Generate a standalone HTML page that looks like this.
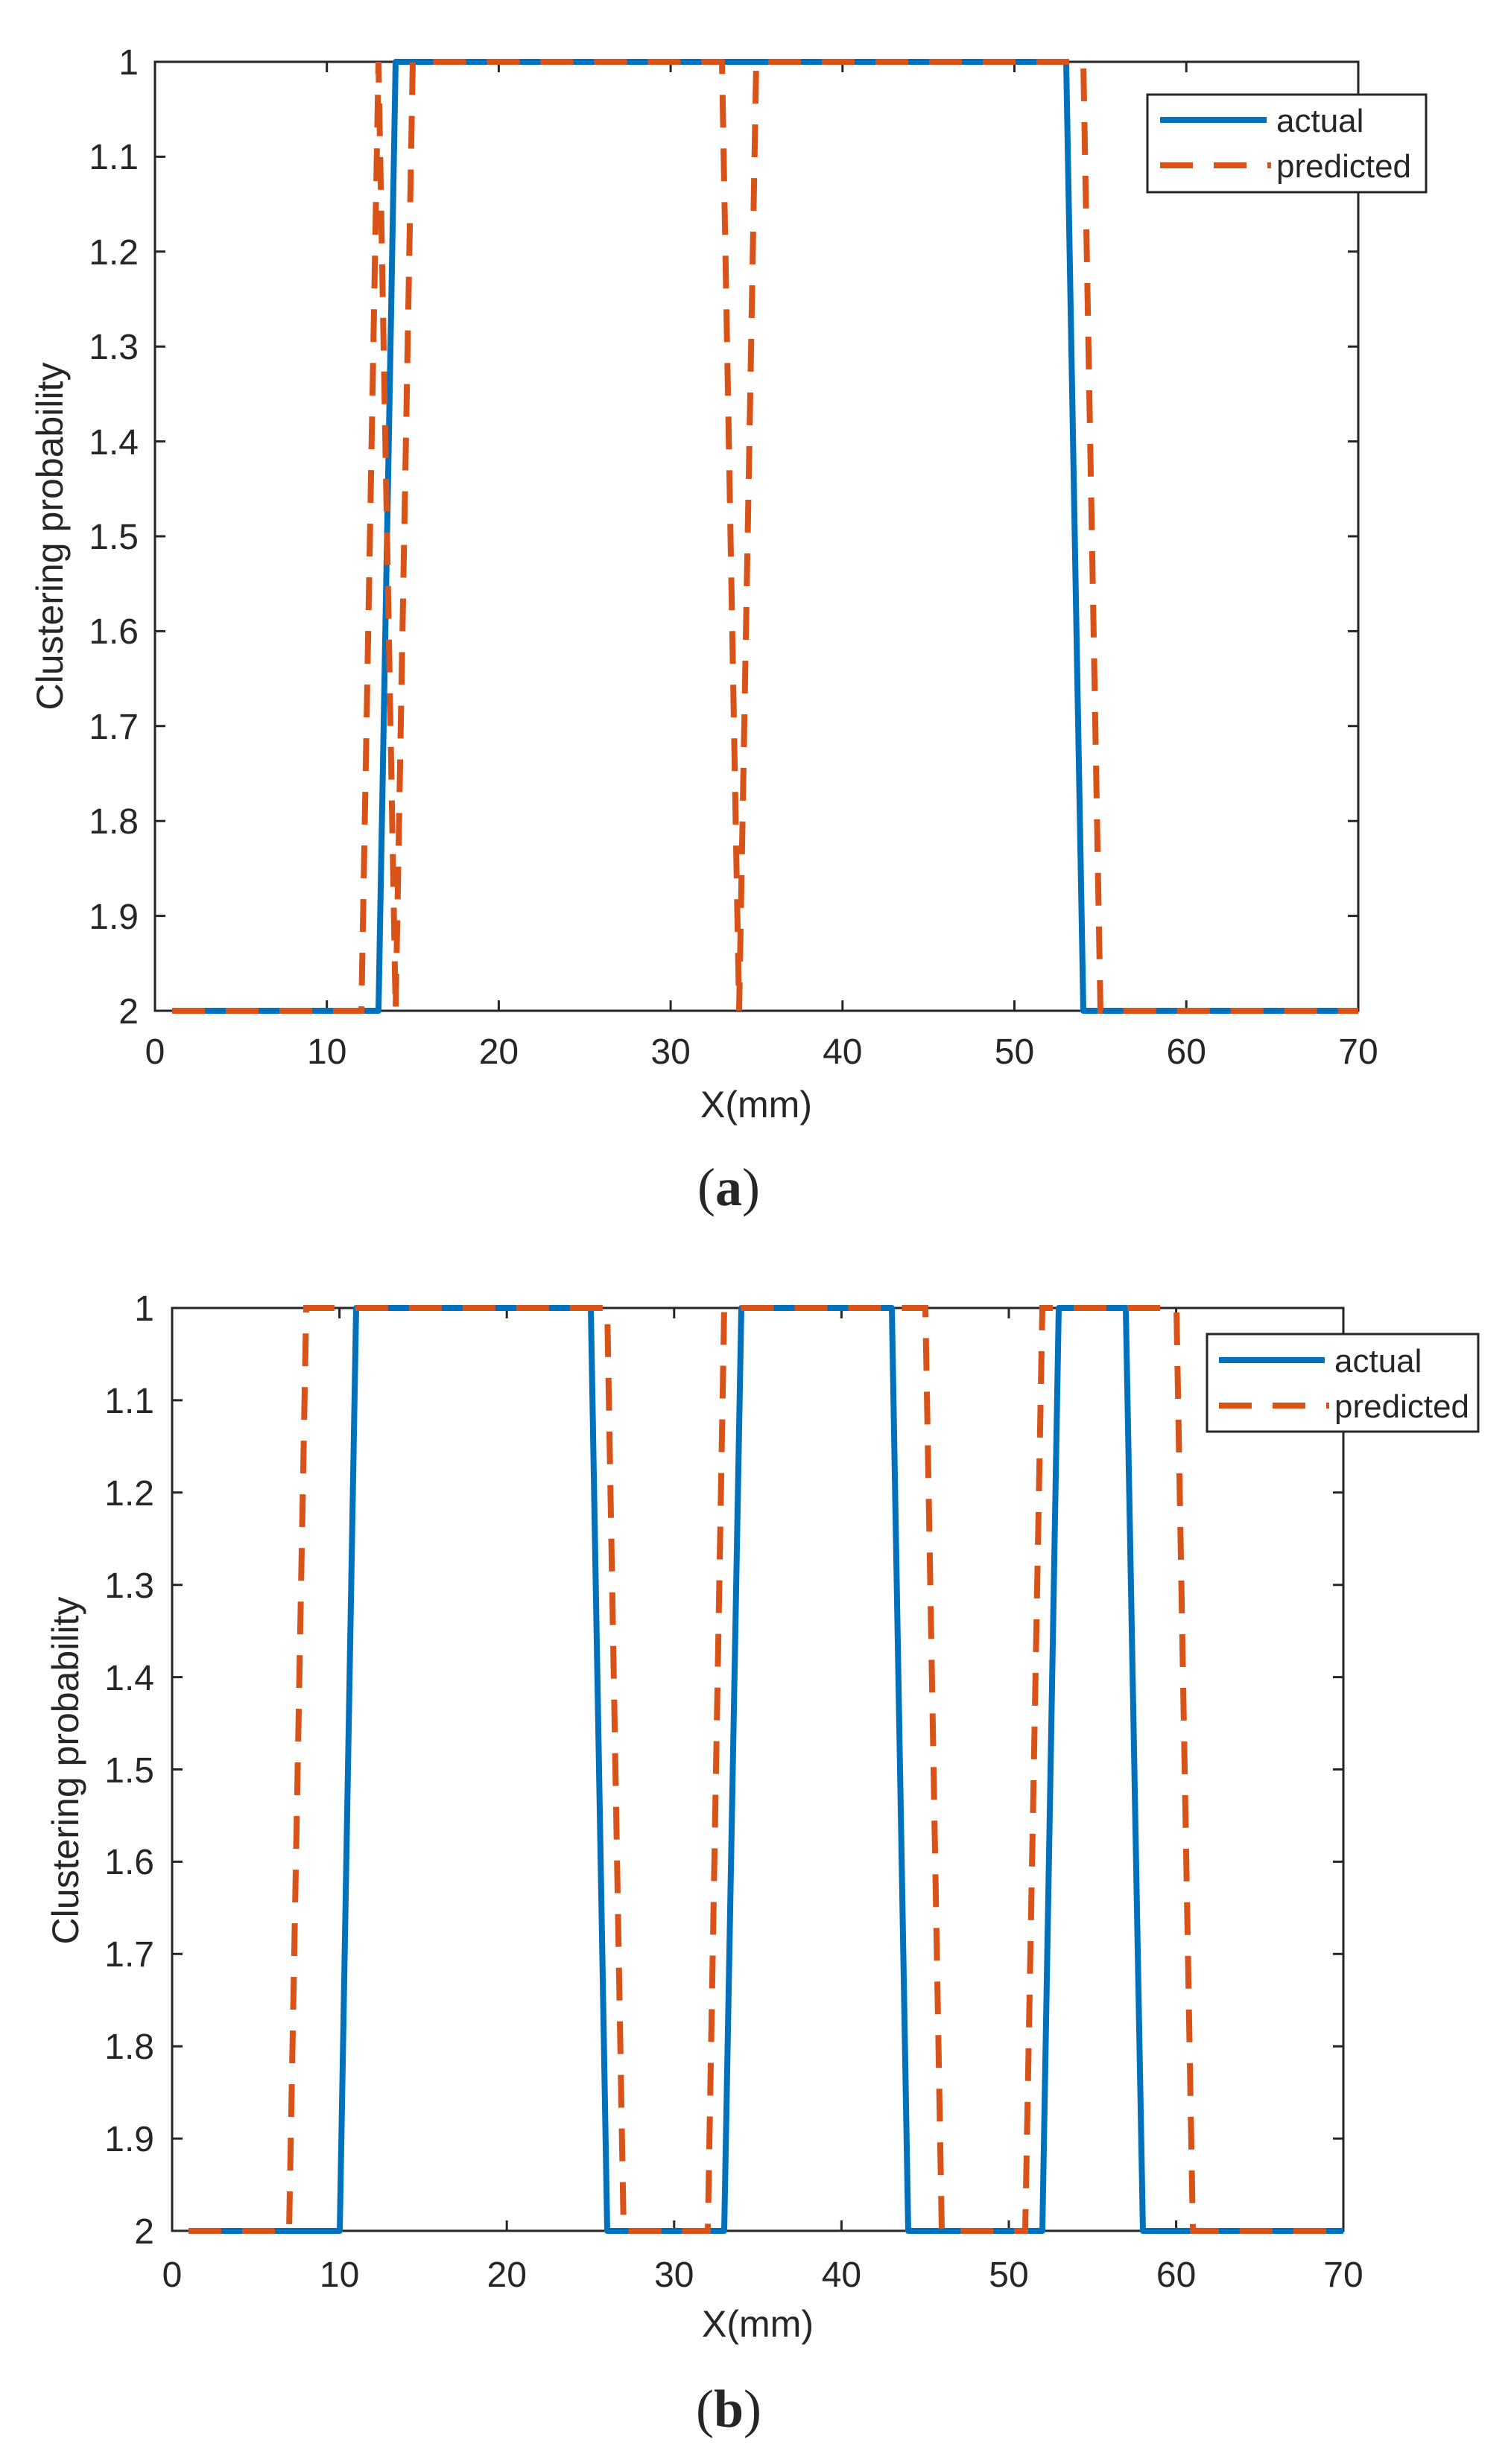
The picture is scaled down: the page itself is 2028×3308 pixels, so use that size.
<!DOCTYPE html>
<html><head><meta charset="utf-8"><style>
html,body{margin:0;padding:0;background:#fff;}
svg{display:block;}
text{font-family:"Liberation Sans",sans-serif;fill:#262626;}
</style></head><body>
<svg width="2028" height="3308" viewBox="0 0 2028 3308" xmlns="http://www.w3.org/2000/svg">
<!-- ===== Plot (a) ===== -->
<g stroke="#262626" stroke-width="3" fill="none">
<rect x="208" y="83" width="1615" height="1274"/>
<path d="M438.7,1357v-14M669.4,1357v-14M900.1,1357v-14M1130.8,1357v-14M1361.5,1357v-14M1592.2,1357v-14
M438.7,83v14M669.4,83v14M900.1,83v14M1130.8,83v14M1361.5,83v14M1592.2,83v14
M208,210.4h14M208,337.8h14M208,465.2h14M208,592.6h14M208,720h14M208,847.4h14M208,974.8h14M208,1102.2h14M208,1229.6h14
M1823,210.4h-14M1823,337.8h-14M1823,465.2h-14M1823,592.6h-14M1823,720h-14M1823,847.4h-14M1823,974.8h-14M1823,1102.2h-14M1823,1229.6h-14"/>
</g>
<g font-size="48" text-anchor="end">
<text x="186" y="100">1</text><text x="186" y="227">1.1</text><text x="186" y="355">1.2</text><text x="186" y="482">1.3</text><text x="186" y="610">1.4</text><text x="186" y="737">1.5</text><text x="186" y="864">1.6</text><text x="186" y="992">1.7</text><text x="186" y="1119">1.8</text><text x="186" y="1247">1.9</text><text x="186" y="1374">2</text>
</g>
<g font-size="48" text-anchor="middle">
<text x="208" y="1428">0</text><text x="438.7" y="1428">10</text><text x="669.4" y="1428">20</text><text x="900.1" y="1428">30</text><text x="1130.8" y="1428">40</text><text x="1361.5" y="1428">50</text><text x="1592.2" y="1428">60</text><text x="1823" y="1428">70</text>
<text x="1015" y="1500" font-size="50">X(mm)</text>
<text transform="translate(84,720) rotate(-90)" font-size="50">Clustering probability</text>
</g>
<polyline fill="none" stroke="#0072BD" stroke-width="8" stroke-linejoin="round" points="231,1357 508,1357 531,83 1431,83 1454,1357 1823,1357"/>
<polyline fill="none" stroke="#D95319" stroke-width="8" stroke-dasharray="44 28" points="231,1357 485,1357 508,83 531,1357 554,83 969,83 992,1357 1015,83 1454,83 1477,1357 1823,1357"/>
<rect x="1540" y="127" width="374" height="131" fill="#fff" stroke="#262626" stroke-width="3"/>
<line x1="1557" y1="161" x2="1700" y2="161" stroke="#0072BD" stroke-width="8"/>
<line x1="1557" y1="222" x2="1706" y2="222" stroke="#D95319" stroke-width="8" stroke-dasharray="44 28"/>
<text x="1713" y="177" font-size="44">actual</text>
<text x="1713" y="238" font-size="44">predicted</text>
<text x="978" y="1618" font-size="72" text-anchor="middle" style="font-family:'Liberation Serif',serif">(<tspan font-weight="bold">a</tspan>)</text>

<!-- ===== Plot (b) ===== -->
<g stroke="#262626" stroke-width="3" fill="none">
<rect x="231" y="1756" width="1572" height="1239"/>
<path d="M455.6,2995v-14M680.2,2995v-14M904.8,2995v-14M1129.4,2995v-14M1354,2995v-14M1578.6,2995v-14
M455.6,1756v14M680.2,1756v14M904.8,1756v14M1129.4,1756v14M1354,1756v14M1578.6,1756v14
M231,1879.9h14M231,2003.8h14M231,2127.7h14M231,2251.6h14M231,2375.5h14M231,2499.4h14M231,2623.3h14M231,2747.2h14M231,2871.1h14
M1803,1879.9h-14M1803,2003.8h-14M1803,2127.7h-14M1803,2251.6h-14M1803,2375.5h-14M1803,2499.4h-14M1803,2623.3h-14M1803,2747.2h-14M1803,2871.1h-14"/>
</g>
<g font-size="48" text-anchor="end">
<text x="207" y="1773">1</text><text x="207" y="1897">1.1</text><text x="207" y="2021">1.2</text><text x="207" y="2145">1.3</text><text x="207" y="2269">1.4</text><text x="207" y="2393">1.5</text><text x="207" y="2516">1.6</text><text x="207" y="2640">1.7</text><text x="207" y="2764">1.8</text><text x="207" y="2888">1.9</text><text x="207" y="3012">2</text>
</g>
<g font-size="48" text-anchor="middle">
<text x="231" y="3070">0</text><text x="455.6" y="3070">10</text><text x="680.2" y="3070">20</text><text x="904.8" y="3070">30</text><text x="1129.4" y="3070">40</text><text x="1354" y="3070">50</text><text x="1578.6" y="3070">60</text><text x="1803" y="3070">70</text>
<text x="1017" y="3137" font-size="50">X(mm)</text>
<text transform="translate(105,2377) rotate(-90)" font-size="50">Clustering probability</text>
</g>
<polyline fill="none" stroke="#0072BD" stroke-width="8" stroke-linejoin="round" points="253,2995 456,2995 478,1756 793,1756 815,2995 972,2995 995,1756 1197,1756 1219,2995 1399,2995 1421,1756 1511,1756 1534,2995 1803,2995"/>
<polyline fill="none" stroke="#D95319" stroke-width="8" stroke-dasharray="44 28" points="253,2995 388,2995 411,1756 815,1756 837,2995 950,2995 972,1756 1242,1756 1264,2995 1376,2995 1399,1756 1579,1756 1601,2995 1803,2995"/>
<rect x="1620" y="1791" width="364" height="131" fill="#fff" stroke="#262626" stroke-width="3"/>
<line x1="1636" y1="1826" x2="1778" y2="1826" stroke="#0072BD" stroke-width="8"/>
<line x1="1636" y1="1887" x2="1784" y2="1887" stroke="#D95319" stroke-width="8" stroke-dasharray="44 28"/>
<text x="1791" y="1842" font-size="44">actual</text>
<text x="1791" y="1903" font-size="44">predicted</text>
<text x="978" y="3258" font-size="72" text-anchor="middle" style="font-family:'Liberation Serif',serif">(<tspan font-weight="bold">b</tspan>)</text>
</svg>
</body></html>
